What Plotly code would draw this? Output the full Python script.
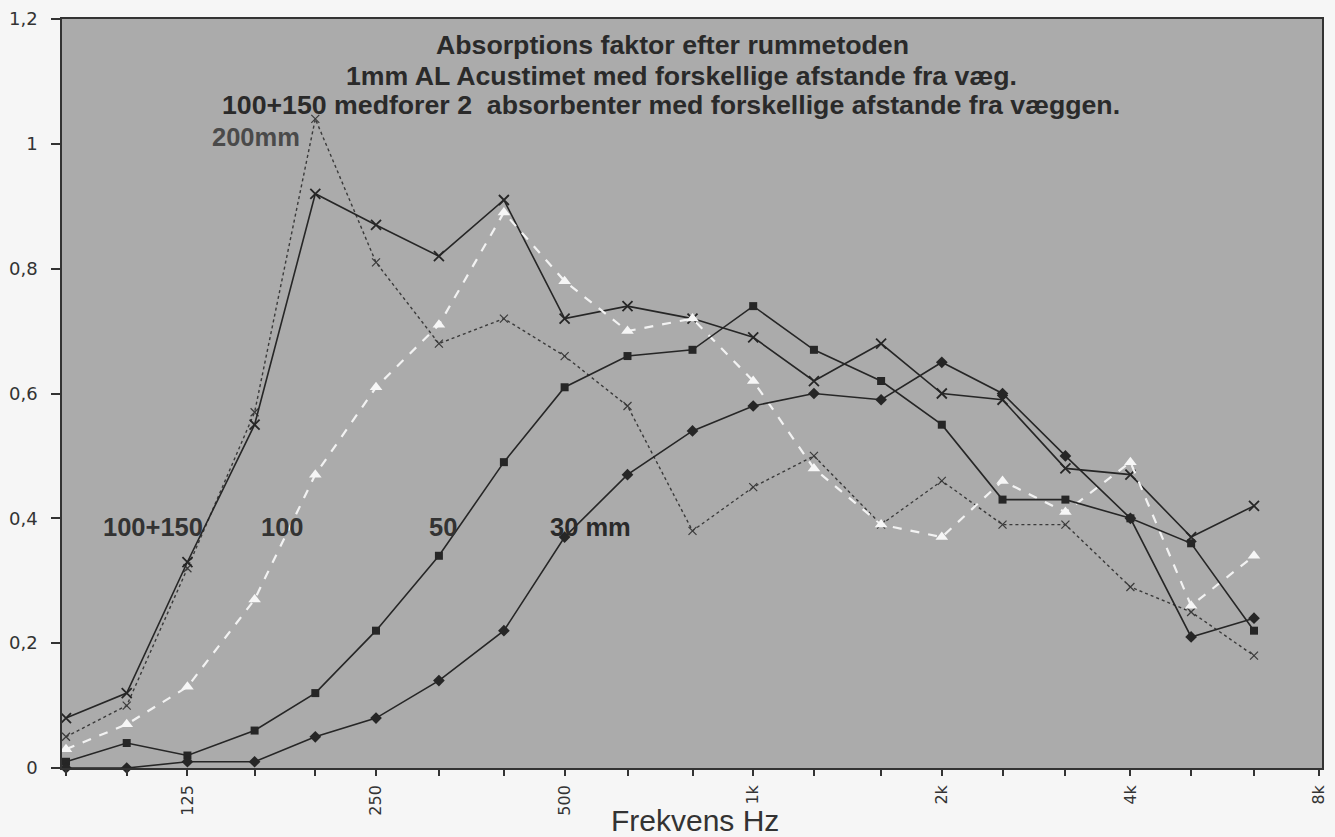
import math
import plotly.graph_objects as go

# 1/3-octave band centre frequencies (Hz)
freqs = [80, 100, 125, 160, 200, 250, 315, 400, 500, 630, 800, 1000,
         1250, 1600, 2000, 2500, 3150, 4000, 5000, 6300]

# Absorption factor per series
abs_30mm = [0.00, 0.00, 0.01, 0.01, 0.05, 0.08, 0.14, 0.22, 0.37, 0.47, 0.54, 0.58,
            0.60, 0.59, 0.65, 0.60, 0.50, 0.40, 0.21, 0.24]
abs_50mm = [0.01, 0.04, 0.02, 0.06, 0.12, 0.22, 0.34, 0.49, 0.61, 0.66, 0.67, 0.74,
            0.67, 0.62, 0.55, 0.43, 0.43, 0.40, 0.36, 0.22]
abs_100mm = [0.03, 0.07, 0.13, 0.27, 0.47, 0.61, 0.71, 0.89, 0.78, 0.70, 0.72, 0.62,
             0.48, 0.39, 0.37, 0.46, 0.41, 0.49, 0.26, 0.34]
abs_100_150 = [0.08, 0.12, 0.33, 0.55, 0.92, 0.87, 0.82, 0.91, 0.72, 0.74, 0.72, 0.69,
               0.62, 0.68, 0.60, 0.59, 0.48, 0.47, 0.37, 0.42]
abs_200mm = [0.05, 0.10, 0.32, 0.57, 1.04, 0.81, 0.68, 0.72, 0.66, 0.58, 0.38, 0.45,
             0.50, 0.39, 0.46, 0.39, 0.39, 0.29, 0.25, 0.18]

# Axis ticks
x_tick_vals = freqs + [8000]
x_tick_labels = {125: "125", 250: "250", 500: "500", 1000: "1k", 2000: "2k",
                 4000: "4k", 8000: "8k"}
y_tick_vals = [0, 0.2, 0.4, 0.6, 0.8, 1.0, 1.2]
y_tick_text = ["0", "0,2", "0,4", "0,6", "0,8", "1", "1,2"]

title_lines = ["Absorptions faktor efter rummetoden",
               "1mm AL Acustimet med forskellige afstande fra væg.",
               "100+150 medforer 2  absorbenter med forskellige afstande fra væggen."]
series_labels = ["100+150", "100", "50", "30 mm", "200mm"]
x_title = "Frekvens Hz"

DARK = "#262626"

fig = go.Figure()

fig.add_trace(go.Scatter(
    x=freqs, y=abs_200mm, mode="lines+markers", name="200mm",
    line=dict(color="#3a3a3a", width=1.4, dash="dot"),
    marker=dict(symbol="x-thin-open", size=8, line=dict(color="#3a3a3a", width=1.2)),
    cliponaxis=False))
fig.add_trace(go.Scatter(
    x=freqs, y=abs_100_150, mode="lines+markers", name="100+150",
    line=dict(color=DARK, width=1.6),
    marker=dict(symbol="x-thin-open", size=10, line=dict(color=DARK, width=1.8)),
    cliponaxis=False))
fig.add_trace(go.Scatter(
    x=freqs, y=abs_100mm, mode="lines+markers", name="100",
    line=dict(color="#f2f2f2", width=2.2, dash="dash"),
    marker=dict(symbol="triangle-up", size=11, color="#f6f6f6"),
    cliponaxis=False))
fig.add_trace(go.Scatter(
    x=freqs, y=abs_50mm, mode="lines+markers", name="50",
    line=dict(color=DARK, width=1.6),
    marker=dict(symbol="square", size=8, color=DARK),
    cliponaxis=False))
fig.add_trace(go.Scatter(
    x=freqs, y=abs_30mm, mode="lines+markers", name="30 mm",
    line=dict(color=DARK, width=1.6),
    marker=dict(symbol="diamond", size=9, color=DARK),
    cliponaxis=False))

# plot area in pixels
L, R, T, B = 62, 1322, 19, 768
W, H = 1335, 837
X80, X8K = 66, 1319          # pixel positions of 80 Hz and 8 kHz
ppd = (X8K - X80) / 2.0      # pixels per decade
x_lo = math.log10(80) - (X80 - L) / ppd
x_hi = math.log10(8000) + (R - X8K) / ppd


def pos(x, y):
    return dict(xref="paper", yref="paper", x=(x - L) / (R - L), y=(B - y) / (B - T))


annotations = []
title_pos = [(672, 45), (681, 76), (671, 105)]
for txt, (px, py) in zip(title_lines, title_pos):
    annotations.append(dict(text="<b>" + txt + "</b>", showarrow=False,
                            xanchor="center", yanchor="middle",
                            font=dict(family="Liberation Sans, Arial", size=26.7, color="#2a2a2a"),
                            **pos(px, py)))

label_pos = [(153, 527), (282, 527), (443, 527), (590, 527), (256, 137)]
label_col = ["#333333", "#333333", "#333333", "#2a2a2a", "#4a4a4a"]
for txt, (px, py), c in zip(series_labels, label_pos, label_col):
    annotations.append(dict(text="<b>" + txt + "</b>", showarrow=False,
                            xanchor="center", yanchor="middle",
                            font=dict(family="Liberation Sans, Arial", size=25.5, color=c),
                            **pos(px, py)))

annotations.append(dict(text=x_title, showarrow=False, xanchor="center", yanchor="middle",
                        font=dict(family="Liberation Sans, Arial", size=30, color="#333333"),
                        **pos(695, 820)))

fig.update_layout(
    width=W, height=H,
    margin=dict(l=L, r=W - R, t=T, b=H - B, autoexpand=False),
    paper_bgcolor="#f6f6f6",
    plot_bgcolor="#ababab",
    showlegend=False,
    annotations=annotations,
    xaxis=dict(
        type="log", range=[x_lo, x_hi], automargin=False,
        tickmode="array", tickvals=x_tick_vals,
        ticktext=[x_tick_labels.get(f, "") for f in x_tick_vals],
        tickangle=-90, ticks="outside", ticklen=6, tickwidth=1.5, tickcolor="#333",
        showgrid=False, zeroline=False,
        showline=True, linecolor="#333", linewidth=1.5, mirror=True,
        tickfont=dict(family="DejaVu Sans", size=16, color="#333"),
        ticklabelstandoff=3,
    ),
    yaxis=dict(
        range=[0, 1.2], tickmode="array", tickvals=y_tick_vals, ticktext=y_tick_text,
        automargin=False,
        ticks="outside", ticklen=9, tickwidth=1.5, tickcolor="#333",
        showgrid=False, zeroline=False,
        showline=True, linecolor="#333", linewidth=1.5, mirror=True,
        tickfont=dict(family="DejaVu Sans", size=18, color="#333"),
        ticklabelstandoff=10,
    ),
)

fig.write_html(
    "out.html",
    config={"displayModeBar": False},
    post_script="document.body.style.margin='0';document.body.style.overflow='hidden';",
)
